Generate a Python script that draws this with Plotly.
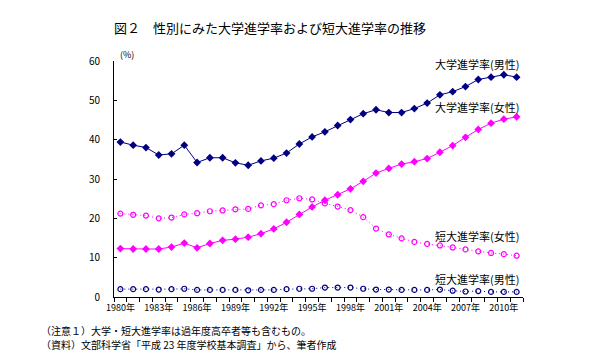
import plotly.graph_objects as go

years = list(range(1980, 2012))
univ_male = [39.4, 38.6, 38.0, 36.1, 36.4, 38.6, 34.2, 35.4, 35.4, 34.1, 33.5,
             34.6, 35.3, 36.6, 38.9, 40.7, 42.0, 43.6, 45.1, 46.6, 47.6,
             46.9, 46.9, 47.9, 49.3, 51.4, 52.2, 53.5, 55.3, 55.9, 56.5, 55.9]
univ_female = [12.3, 12.2, 12.2, 12.2, 12.7, 13.7, 12.5, 13.6, 14.4, 14.7, 15.2,
               16.1, 17.3, 19.0, 21.0, 22.9, 24.6, 26.0, 27.5, 29.4, 31.5,
               32.7, 33.8, 34.4, 35.2, 36.8, 38.5, 40.6, 42.6, 44.2, 45.2, 45.8]
jc_female = [21.2, 20.9, 20.7, 20.0, 20.2, 21.0, 21.3, 21.8, 22.0, 22.3, 22.4,
             23.3, 23.6, 24.6, 25.1, 24.8, 23.8, 23.0, 22.1, 20.3, 17.4,
             15.9, 14.9, 14.0, 13.5, 13.1, 12.6, 12.1, 11.6, 11.2, 10.9, 10.5]
jc_male = [2.0, 2.0, 2.0, 1.9, 2.0, 2.1, 1.8, 1.8, 1.8, 1.8, 1.7,
           1.8, 1.8, 2.0, 2.1, 2.1, 2.4, 2.4, 2.4, 2.1, 1.9,
           1.9, 1.8, 1.8, 1.8, 1.9, 1.6, 1.4, 1.5, 1.3, 1.3, 1.3]
tick_years = list(range(1980, 2012, 3))
tick_labels = [f"{y}年" for y in tick_years]

NAVY = "#000080"
MAG = "#FF00FF"
FONT = "Noto Sans CJK JP"

W, H = 597, 359
ML, MR, MT, MB = 106, 82, 53, 70
PW, PH = W - ML - MR, H - MT - MB


def px(x):
    return (x - ML) / PW


def py(y):
    return (H - MB - y) / PH


fig = go.Figure()
fig.add_trace(go.Scatter(x=years, y=jc_male, mode="lines+markers",
                         line=dict(color=NAVY, width=1, dash="1px,3px"),
                         marker=dict(symbol="circle-open", size=5, color=NAVY, line=dict(width=1.2))))
fig.add_trace(go.Scatter(x=years, y=jc_female, mode="lines+markers",
                         line=dict(color=MAG, width=1, dash="1px,3px"),
                         marker=dict(symbol="circle-open", size=5, color=MAG, line=dict(width=1.2))))
fig.add_trace(go.Scatter(x=years, y=univ_female, mode="lines+markers",
                         line=dict(color=MAG, width=1),
                         marker=dict(symbol="diamond", size=6, color=MAG)))
fig.add_trace(go.Scatter(x=years, y=univ_male, mode="lines+markers",
                         line=dict(color=NAVY, width=1),
                         marker=dict(symbol="diamond", size=6, color=NAVY)))

labels = [("大学進学率(男性)", 55.7), ("大学進学率(女性)", 99.3),
          ("短大進学率(女性)", 227.7), ("短大進学率(男性)", 271)]
anns = []
for txt, ypx in labels:
    anns.append(dict(text=txt, x=px(469), y=py(ypx), xanchor="center", yanchor="middle",
                     font=dict(size=11, color="black", family=FONT)))
anns.append(dict(text="(%)", x=px(110), y=py(46), xanchor="left", yanchor="middle",
                 font=dict(size=9, color="black", family=FONT)))
anns.append(dict(text="図２　性別にみた大学進学率および短大進学率の推移", x=px(262), y=py(20),
                 xanchor="center", yanchor="middle", font=dict(size=13, color="black", family=FONT)))
anns.append(dict(text="（注意１）大学・短大進学率は過年度高卒者等も含むもの。", x=px(31), y=py(322),
                 xanchor="left", yanchor="middle", font=dict(size=10, color="black", family=FONT)))
anns.append(dict(text="（資料）文部科学省「平成 23 年度学校基本調査」から、筆者作成", x=px(31), y=py(336),
                 xanchor="left", yanchor="middle", font=dict(size=10, color="black", family=FONT)))
for a in anns:
    a.update(xref="paper", yref="paper", showarrow=False)

fig.update_layout(
    width=W, height=H,
    margin=dict(l=ML, r=MR, t=MT, b=MB),
    paper_bgcolor="white", plot_bgcolor="white",
    showlegend=False,
    font=dict(family=FONT, size=10, color="black"),
    annotations=anns,
    xaxis=dict(range=[1979.5, 2011.5], tickvals=tick_years, ticktext=tick_labels,
               showgrid=False, zeroline=False, showline=True, linecolor="black", linewidth=1,
               ticks="outside", ticklen=0, tickfont=dict(size=9, family=FONT),
               ticklabelstandoff=2,
               minor=dict(ticks="outside", ticklen=4, tickcolor="black", dtick=1, tick0=1979.5, showgrid=False)),
    yaxis=dict(range=[0, 60], tickvals=[0, 10, 20, 30, 40, 50, 60],
               showgrid=False, zeroline=False, showline=True, linecolor="black", linewidth=1,
               ticks="inside", ticklen=3, tickcolor="black", tickfont=dict(size=10, family=FONT),
               ticklabelstandoff=11),
)
fig.write_html("out.html")
